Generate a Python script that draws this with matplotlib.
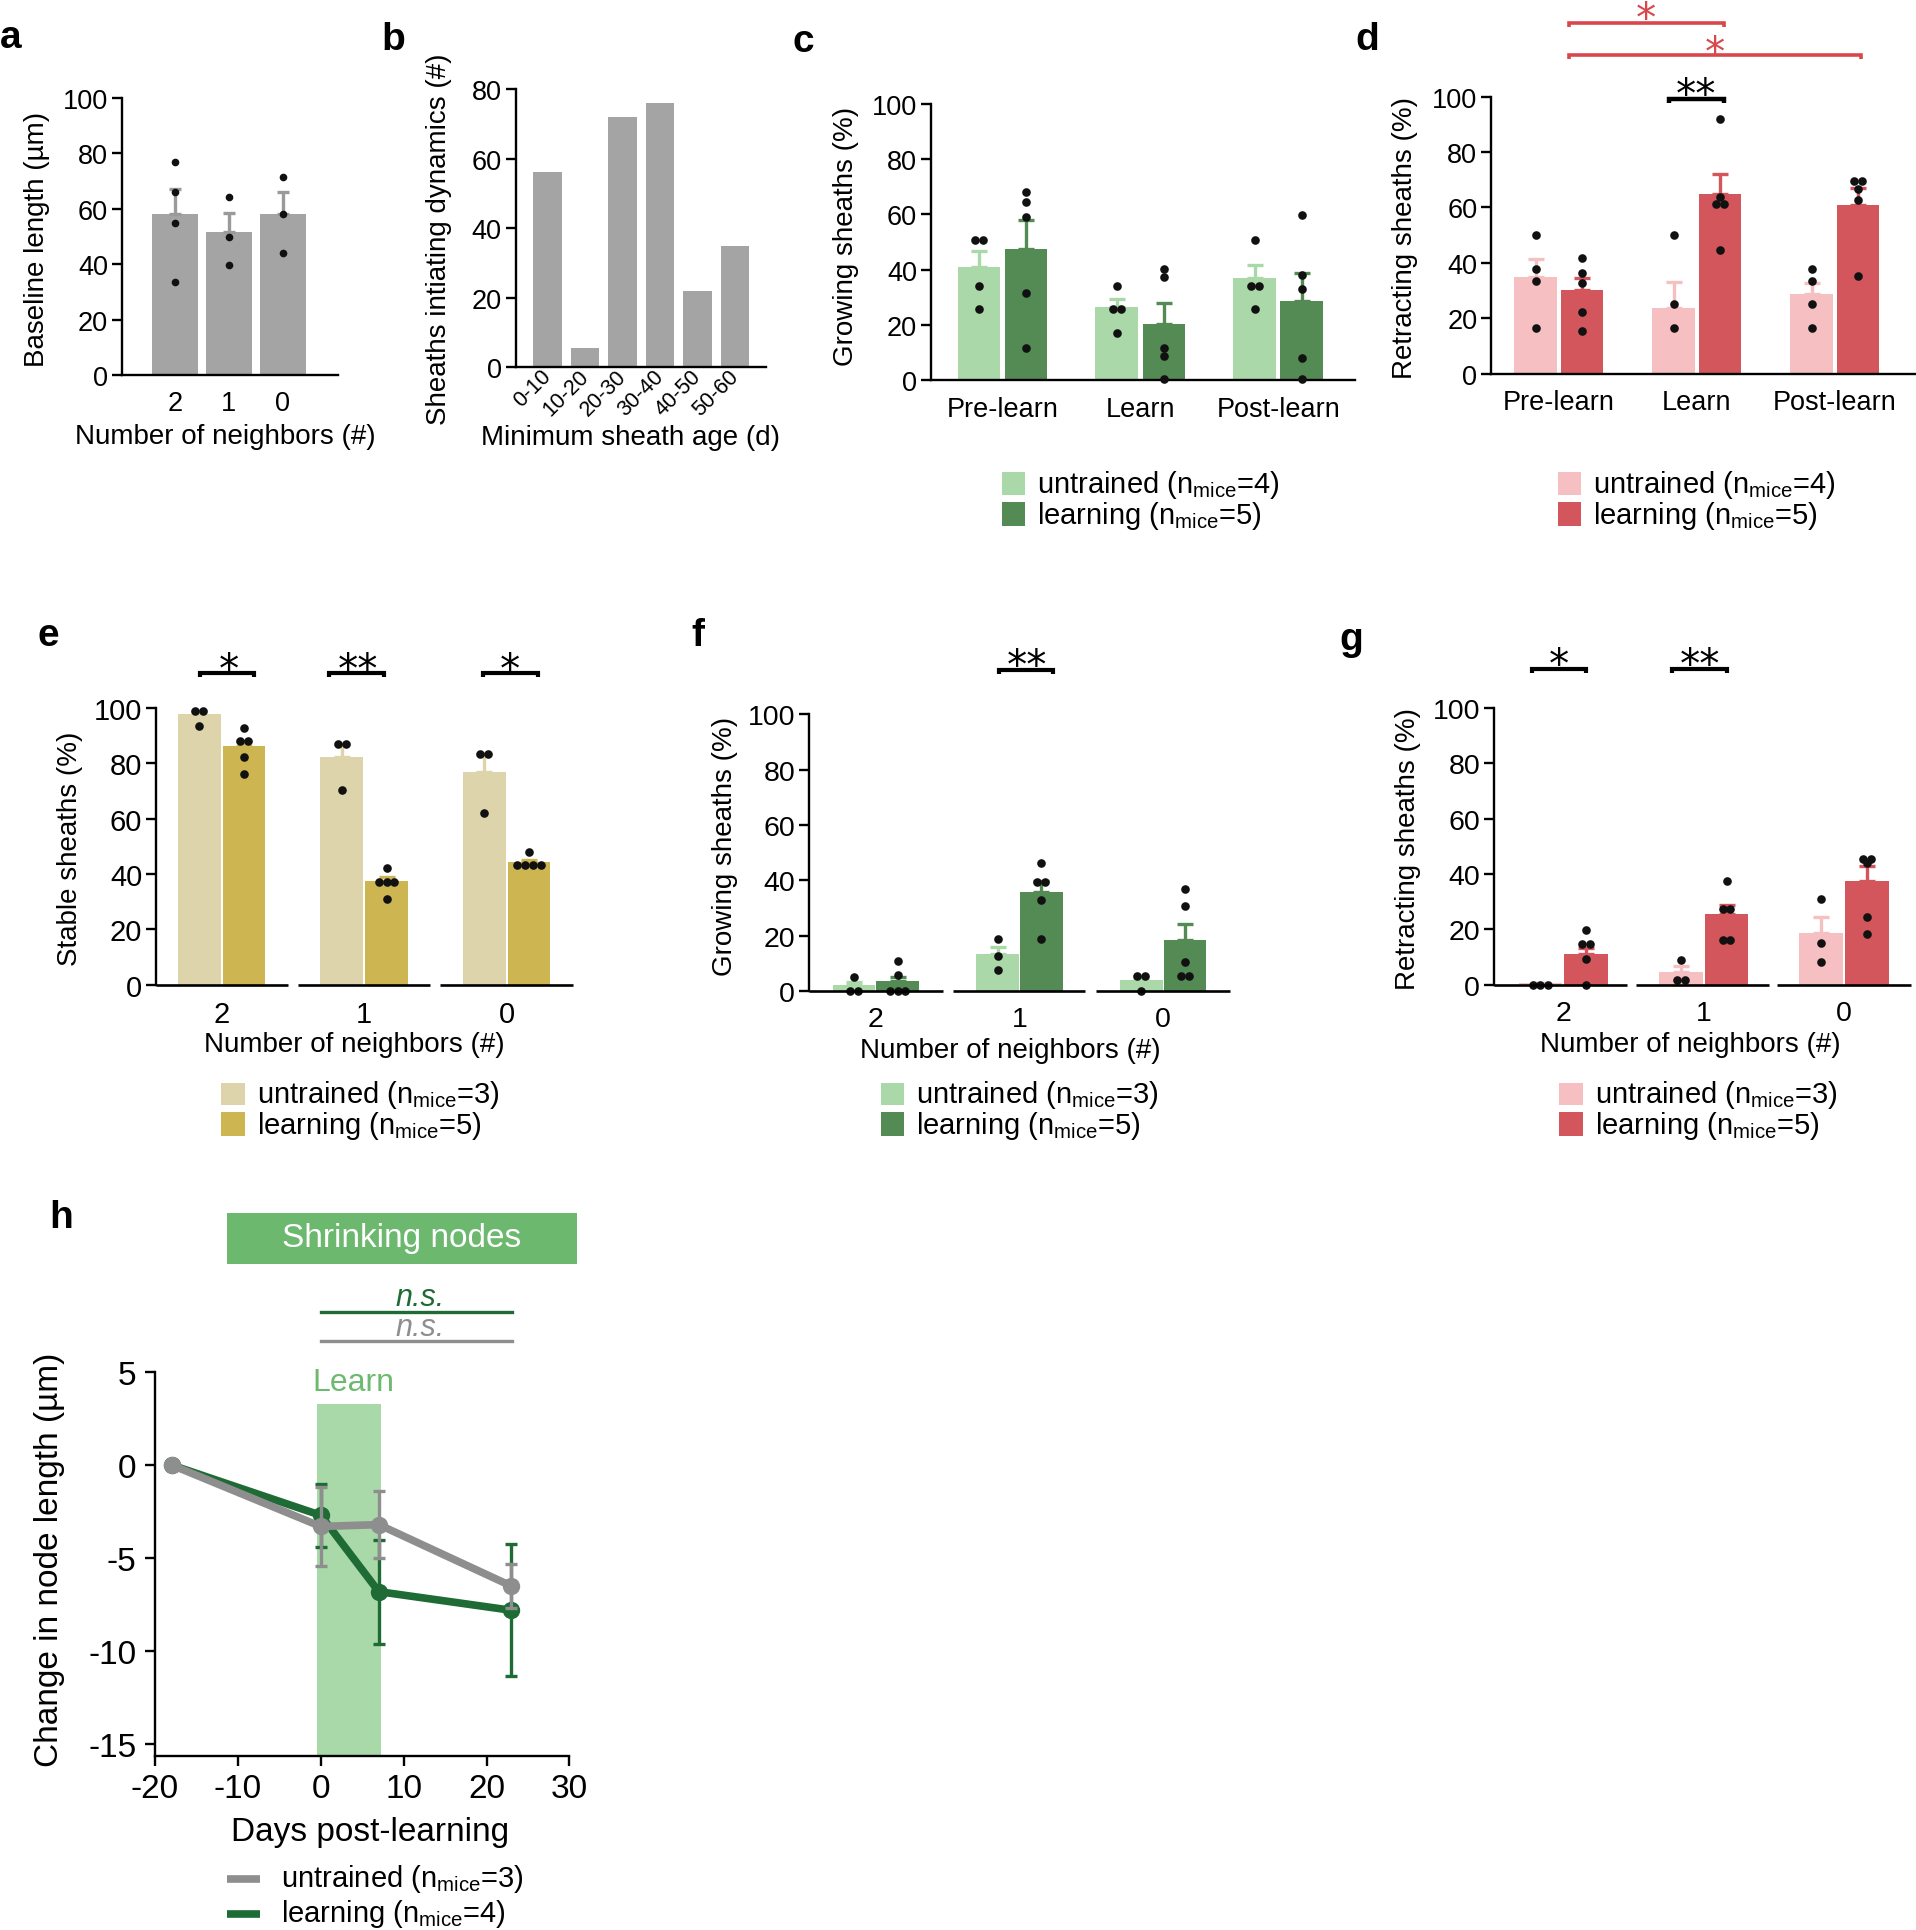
import matplotlib
matplotlib.use('Agg')
import matplotlib.pyplot as plt
from matplotlib.patches import Rectangle
from matplotlib.lines import Line2D
from collections import Counter
import numpy as np

plt.rcParams['font.family'] = ['Liberation Sans', 'DejaVu Sans']
plt.rcParams['mathtext.default'] = 'regular'
plt.rcParams['mathtext.fontset'] = 'custom'
plt.rcParams['mathtext.rm'] = 'Liberation Sans'
plt.rcParams['mathtext.it'] = 'Liberation Sans:italic'
plt.rcParams['axes.unicode_minus'] = False

# ---------------- DATA ----------------
# panel a
a_cats = ['2', '1', '0']
a_means = [58.1, 51.6, 58.1]
a_err = [9.0, 7.0, 8.0]
a_points = [[77.0, 66.0, 54.9, 33.5], [64.4, 49.8, 39.7], [71.4, 58.1, 44.0]]

# panel b
b_cats = ['0-10', '10-20', '20-30', '30-40', '40-50', '50-60']
b_counts = [56, 5.5, 72, 76, 22, 35]

# panel c (growing sheaths by phase)
phases = ['Pre-learn', 'Learn', 'Post-learn']
c_untr_mean = [41.0, 26.4, 36.8]
c_untr_err = [5.7, 3.0, 4.7]
c_learn_mean = [47.6, 20.5, 28.6]
c_learn_err = [10.2, 7.4, 10.1]
c_untr_pts = [[50.7, 50.7, 34.0, 25.7], [34.0, 25.7, 25.7, 17.2], [50.7, 34.0, 34.0, 25.7]]
c_learn_pts = [[68.1, 64.3, 59.1, 31.4, 11.7], [40.3, 37.4, 11.7, 8.9, 0.6], [59.6, 38.2, 33.0, 8.2, 0.6]]

# panel d (retracting sheaths by phase)
d_untr_mean = [35.1, 23.7, 28.8]
d_untr_err = [6.3, 9.6, 4.0]
d_learn_mean = [30.2, 65.0, 60.9]
d_learn_err = [4.5, 7.1, 6.0]
d_untr_pts = [[50.2, 37.7, 33.5, 16.7], [50.2, 25.1, 16.7], [37.7, 33.5, 25.1, 16.7]]
d_learn_pts = [[41.7, 36.4, 32.6, 22.3, 15.4], [91.8, 63.7, 61.1, 61.1, 44.5], [69.5, 69.5, 66.8, 62.7, 35.4]]

# panel e (stable sheaths by neighbors)
nb_cats = ['2', '1', '0']
e_untr_mean = [97.7, 82.2, 77.0]
e_untr_err = [1.0, 4.8, 6.5]
e_learn_mean = [86.1, 37.4, 44.4]
e_learn_err = [2.1, 1.6, 0.8]
e_untr_pts = [[98.7, 98.7, 93.5], [87.0, 87.0, 70.3], [83.5, 83.5, 61.9]]
e_learn_pts = [[92.9, 88.0, 88.0, 82.2, 76.1], [42.2, 37.0, 37.0, 37.0, 31.0], [48.0, 43.1, 43.1, 43.1, 43.1]]

# panel f (growing sheaths by neighbors)
f_untr_mean = [2.2, 13.2, 3.9]
f_untr_err = [1.0, 2.6, 1.3]
f_learn_mean = [3.5, 35.9, 18.3]
f_learn_err = [1.7, 3.8, 6.0]
f_untr_pts = [[4.9, 0.0, 0.0], [18.7, 12.7, 7.5], [5.4, 5.4, 0.0]]
f_learn_pts = [[11.0, 5.8, 0.0, 0.0, 0.0], [46.4, 39.4, 39.4, 32.9, 18.7], [37.0, 30.7, 10.6, 5.4, 5.4]]

# panel g (retracting sheaths by neighbors)
g_untr_mean = [0.7, 4.5, 18.7]
g_untr_err = [0.0, 2.2, 5.8]
g_learn_mean = [11.2, 25.4, 37.3]
g_learn_err = [2.0, 3.2, 5.5]
g_untr_pts = [[0.0, 0.0, 0.0], [8.9, 1.5, 1.5], [31.0, 15.1, 8.3]]
g_learn_pts = [[19.6, 14.5, 14.5, 9.3, 0.0], [37.4, 27.4, 27.4, 16.1, 16.1], [45.4, 45.4, 44.1, 24.5, 18.3]]

# panel h (node length)
h_days = [-18, 0, 7, 23]
h_untr = [0.0, -3.3, -3.2, -6.5]
h_untr_err = [0.0, 2.1, 1.8, 1.2]
h_learn = [0.0, -2.7, -6.8, -7.8]
h_learn_err = [0.0, 1.7, 2.8, 3.55]
learn_window = (-0.4, 7.25)
learn_top = 3.3

# ---------------- STYLE ----------------
GREY_BAR = '#A4A4A4'
GREY_ERR = '#9A9A9A'
G_LIGHT, G_DARK = '#AAD8A9', '#548A53'
R_LIGHT, R_DARK = '#F6C0C2', '#D2565B'
Y_LIGHT, Y_DARK = '#DED4AB', '#CDB652'
H_GREY, H_GREEN = '#8E8E8E', '#1E6B35'
SIG_RED = '#D9474C'

W, H = 1916, 1931
fig = plt.figure(figsize=(W / 100, H / 100), dpi=100)


def add_ax(x0, yt, x1, yb):
    ax = fig.add_axes([x0 / W, 1 - yb / H, (x1 - x0) / W, (yb - yt) / H])
    ax.patch.set_alpha(0)
    return ax


def ftext(x, y, s, **kw):
    return fig.text(x / W, 1 - y / H, s, **kw)


def fline(xs, ys, **kw):
    fig.add_artist(Line2D([x / W for x in xs], [1 - y / H for y in ys],
                          transform=fig.transFigure, **kw))


def frect(x0, yt, x1, yb, **kw):
    fig.add_artist(Rectangle((x0 / W, 1 - yb / H), (x1 - x0) / W, (yb - yt) / H,
                             transform=fig.transFigure, **kw))


def style(ax, fs, xpad=11):
    for s in ['top', 'right']:
        ax.spines[s].set_visible(False)
    for s in ['left', 'bottom']:
        ax.spines[s].set_linewidth(1.7)
    ax.tick_params(axis='y', length=7, width=1.7, labelsize=fs, pad=3)
    ax.tick_params(axis='x', length=0, labelsize=fs, pad=xpad)


def spread(vals, dx):
    c = Counter(vals)
    seen = {}
    out = []
    for v in vals:
        k = c[v]
        j = seen.get(v, 0)
        seen[v] = j + 1
        out.append((j - (k - 1) / 2) * dx)
    return np.array(out)


def grouped(ax, mu, eu, pu, ml, el, pl, cu, cl, w, gap, dx=0.055, ms=6.2):
    x = np.arange(len(mu))
    off = (w + gap) / 2
    ax.bar(x - off, mu, w, color=cu, zorder=1)
    ax.bar(x + off, ml, w, color=cl, zorder=1)
    ax.errorbar(x - off, mu, yerr=[np.zeros(len(eu)), eu], fmt='none', ecolor=cu,
                elinewidth=2.4, capsize=5.5, capthick=2.4, zorder=2)
    ax.errorbar(x + off, ml, yerr=[np.zeros(len(el)), el], fmt='none', ecolor=cl,
                elinewidth=2.4, capsize=5.5, capthick=2.4, zorder=2)
    for i in range(len(x)):
        ax.plot(x[i] - off + spread(pu[i], dx), pu[i], 'o', color='#111111', ms=ms,
                mew=0, zorder=3, clip_on=False)
        ax.plot(x[i] + off + spread(pl[i], dx), pl[i], 'o', color='#111111', ms=ms,
                mew=0, zorder=3, clip_on=False)
    ax.set_ylim(0, 100)
    ax.set_yticks(range(0, 101, 20))
    ax.set_xticks(x)
    return x


def legend_boxes(x0, x1, rows, labels, colors, fs=21):
    for (yt, yb), lab, col in zip(rows, labels, colors):
        frect(x0, yt, x1, yb, color=col, lw=0)
        ftext(x1 + 12, yb - 3, lab, fontsize=fs, va='baseline', ha='left')


def bracket(x0, x1, y, color='black', lw=3.0, tick=4):
    fline([x0, x0, x1, x1], [y + tick, y, y, y + tick], color=color, lw=lw,
          solid_joinstyle='miter', solid_capstyle='butt')


def stars(x, yc, s, color='black', fs=29):
    em = fs * 100 / 72
    ftext(x, yc + 0.575 * em, s, fontsize=fs, color=color, ha='center', va='baseline',
          family='DejaVu Sans')


def panel_letter(x, y, s):
    ftext(x, y, s, fontsize=28, fontweight='bold', va='baseline', ha='left')


FS = 20

# ---------------- PANEL a ----------------
axa = add_ax(122, 99, 338, 376)
xa = np.arange(len(a_cats))
axa.bar(xa, a_means, 0.85, color=GREY_BAR, zorder=1)
axa.errorbar(xa, a_means, yerr=[np.zeros(3), a_err], fmt='none', ecolor=GREY_ERR,
             elinewidth=2.4, capsize=4.5, capthick=2.4, zorder=2)
for i in range(len(xa)):
    axa.plot(np.full(len(a_points[i]), xa[i]), a_points[i], 'o', color='#111111',
             ms=5.5, mew=0, zorder=3)
axa.set_xlim(-0.98, 3.02)
axa.set_ylim(0, 100)
axa.set_yticks(range(0, 101, 20))
axa.set_xticks(xa)
axa.set_xticklabels(a_cats)
style(axa, 19.5)
ftext(37, 239, 'Baseline length (µm)', fontsize=FS, rotation=90, ha='center', va='center')
ftext(225, 437, 'Number of neighbors (#)', fontsize=FS, ha='center', va='center')
panel_letter(0, 48, 'a')

# ---------------- PANEL b ----------------
axb = add_ax(515.7, 90, 766, 368.3)
xb = np.arange(len(b_cats))
axb.bar(xb, b_counts, 0.76, color=GREY_BAR)
axb.set_xlim(-0.853, 5.82)
axb.set_ylim(0, 80)
axb.set_yticks(range(0, 81, 20))
axb.set_xticks(xb)
style(axb, 19.5, xpad=4)
axb.set_xticklabels(b_cats, rotation=45, ha='right', va='center', rotation_mode='anchor',
                    fontsize=15.5)
ftext(439, 239, 'Sheaths intiating dynamics (#)', fontsize=FS, rotation=90,
      ha='center', va='center')
ftext(630.5, 438, 'Minimum sheath age (d)', fontsize=FS, ha='center', va='center')
panel_letter(381, 50, 'b')

# ---------------- PANEL c ----------------
axc = add_ax(931, 104.6, 1355, 381.3)
grouped(axc, c_untr_mean, c_untr_err, c_untr_pts, c_learn_mean, c_learn_err, c_learn_pts,
        G_LIGHT, G_DARK, 0.309, 0.032, dx=0.06)
axc.set_xlim(-0.518, 2.557)
axc.set_xticklabels(phases)
style(axc, 19.5)
ftext(845.7, 236.6, 'Growing sheaths (%)', fontsize=FS, rotation=90, ha='center', va='center')
legend_boxes(1002, 1025.3, [(473, 496), (503.4, 526.6)],
             [r'untrained (n$_{mice}$=4)', r'learning (n$_{mice}$=5)'], [G_LIGHT, G_DARK])
panel_letter(793, 51.8, 'c')

# ---------------- PANEL d ----------------
axd = add_ax(1491.2, 97.5, 1916, 374.9)
grouped(axd, d_untr_mean, d_untr_err, d_untr_pts, d_learn_mean, d_learn_err, d_learn_pts,
        R_LIGHT, R_DARK, 0.308, 0.03, dx=0.06)
axd.set_xlim(-0.49, 2.588)
axd.set_xticklabels(phases)
style(axd, 19.5)
ftext(1405, 238, 'Retracting sheaths (%)', fontsize=FS, rotation=90, ha='center', va='center')
legend_boxes(1557.5, 1580.6, [(473, 496), (503.4, 526.6)],
             [r'untrained (n$_{mice}$=4)', r'learning (n$_{mice}$=5)'], [R_LIGHT, R_DARK])
bracket(1668.5, 1723.5, 100, 'black', lw=3.2)
stars(1696, 84.8, '**')
bracket(1569.2, 1723.5, 24.3, SIG_RED, lw=2.6)
stars(1645.5, 9, '*', SIG_RED)
bracket(1569.2, 1860.7, 56.4, SIG_RED, lw=2.6)
stars(1714.6, 42.8, '*', SIG_RED)
panel_letter(1355, 50, 'd')


# ---------------- PANELS e, f, g ----------------
def broken_axis(ax, segs):
    ax.spines['bottom'].set_visible(False)
    for a, b in segs:
        ax.plot([a, b], [0, 0], color='black', lw=1.9, clip_on=False, zorder=4,
                solid_capstyle='butt')


axe = add_ax(156.2, 708.9, 573.3, 985.6)
grouped(axe, e_untr_mean, e_untr_err, e_untr_pts, e_learn_mean, e_learn_err, e_learn_pts,
        Y_LIGHT, Y_DARK, 0.30, 0.014)
axe.set_xlim(-0.459, 2.467)
axe.set_xticklabels(nb_cats)
style(axe, 21)
broken_axis(axe, [(-0.459, 0.465), (0.534, 1.463), (1.532, 2.467)])
ftext(70, 849, 'Stable sheaths (%)', fontsize=FS, rotation=90, ha='center', va='center')
ftext(353.9, 1045.5, 'Number of neighbors (#)', fontsize=FS, ha='center', va='center')
legend_boxes(221.4, 245.1, [(1084, 1106.2), (1113.4, 1136.6)],
             [r'untrained (n$_{mice}$=3)', r'learning (n$_{mice}$=5)'], [Y_LIGHT, Y_DARK])
for (x0, x1), xs, s in zip([(199.7, 254.2), (329, 383.5), (483.2, 537.7)],
                           [229.3, 357.8, 510], ['*', '**', '*']):
    bracket(x0, x1, 674.3)
    stars(xs, 660, s)
panel_letter(37.6, 645.7, 'e')

axf = add_ax(809, 715.3, 1229.6, 992)
grouped(axf, f_untr_mean, f_untr_err, f_untr_pts, f_learn_mean, f_learn_err, f_learn_pts,
        G_LIGHT, G_DARK, 0.296, 0.008)
axf.set_xlim(-0.464, 2.461)
axf.set_xticklabels(nb_cats)
style(axf, 20.5)
broken_axis(axf, [(-0.464, 0.467), (0.535, 1.458), (1.534, 2.461)])
ftext(724.5, 846.5, 'Growing sheaths (%)', fontsize=FS, rotation=90, ha='center', va='center')
ftext(1010.8, 1050.9, 'Number of neighbors (#)', fontsize=FS, ha='center', va='center')
legend_boxes(881, 904.3, [(1084, 1106.2), (1113.4, 1136.6)],
             [r'untrained (n$_{mice}$=3)', r'learning (n$_{mice}$=5)'], [G_LIGHT, G_DARK])
bracket(999.2, 1052.6, 670.7)
stars(1027.1, 655.5, '**')
panel_letter(691, 645.7, 'f')

axg = add_ax(1494, 708.9, 1910.9, 985.6)
grouped(axg, g_untr_mean, g_untr_err, g_untr_pts, g_learn_mean, g_learn_err, g_learn_pts,
        R_LIGHT, R_DARK, 0.31, 0.016)
axg.set_xlim(-0.493, 2.476)
axg.set_xticklabels(nb_cats)
style(axg, 20.5)
broken_axis(axg, [(-0.493, 0.455), (0.52, 1.462), (1.524, 2.476)])
ftext(1408.4, 849, 'Retracting sheaths (%)', fontsize=FS, rotation=90, ha='center', va='center')
ftext(1690.5, 1045.5, 'Number of neighbors (#)', fontsize=FS, ha='center', va='center')
legend_boxes(1559.4, 1583.3, [(1084, 1106.2), (1113.4, 1136.6)],
             [r'untrained (n$_{mice}$=3)', r'learning (n$_{mice}$=5)'], [R_LIGHT, R_DARK])
bracket(1531.7, 1586, 669.6)
stars(1558.6, 654.6, '*')
bracket(1671.5, 1726.6, 669.6)
stars(1700, 654.6, '**')
panel_letter(1339, 650, 'g')

# ---------------- PANEL h ----------------
axh = add_ax(155, 1372.9, 569.4, 1757.1)
YMIN_H = -15.63
axh.add_patch(Rectangle((learn_window[0], YMIN_H), learn_window[1] - learn_window[0],
                        learn_top - YMIN_H, color='#A9D8A9', lw=0, zorder=0))
axh.errorbar(h_days, h_learn, yerr=h_learn_err, color=H_GREEN, lw=5.5, marker='o', ms=11.5,
             elinewidth=2.4, capsize=4.5, capthick=2.4, zorder=3)
axh.errorbar(h_days, h_untr, yerr=h_untr_err, color=H_GREY, lw=5.5, marker='o', ms=11.5,
             elinewidth=2.4, capsize=4.5, capthick=2.4, zorder=4)
axh.set_xlim(-20, 30)
axh.set_ylim(YMIN_H, 5)
axh.set_xticks(range(-20, 31, 10))
axh.set_yticks(range(-15, 6, 5))
for s in ['top', 'right']:
    axh.spines[s].set_visible(False)
for s in ['left', 'bottom']:
    axh.spines[s].set_linewidth(1.7)
axh.tick_params(axis='both', length=7.5, width=1.7, labelsize=24)
axh.tick_params(axis='y', pad=6)
axh.tick_params(axis='x', pad=5)
ftext(49.4, 1559.6, 'Change in node length (µm)', fontsize=24, rotation=90,
      ha='center', va='center')
ftext(369.7, 1832.7, 'Days post-learning', fontsize=24, ha='center', va='center')
frect(226.6, 1213.6, 576.5, 1264.7, color='#6CB86E', lw=0)
ftext(401.5, 1239, 'Shrinking nodes', fontsize=24, color='white', ha='center', va='center')
fline([321.1, 512], [1312.9, 1312.9], color=H_GREEN, lw=2.4)
ftext(420.3, 1305.8, 'n.s.', fontsize=22, style='italic', color=H_GREEN, ha='center',
      va='baseline')
fline([321.1, 512], [1342.2, 1342.2], color=H_GREY, lw=2.4)
ftext(420.3, 1336.5, 'n.s.', fontsize=22, style='italic', color=H_GREY, ha='center',
      va='baseline')
ftext(353.1, 1391, 'Learn', fontsize=23, color='#6DB96E', ha='center', va='baseline')
fline([227.4, 260.2], [1880, 1880], color=H_GREY, lw=5.5, solid_capstyle='butt')
ftext(280.7, 1887, r'untrained (n$_{mice}$=3)', fontsize=21, va='baseline')
fline([227.4, 260.2], [1914.5, 1914.5], color=H_GREEN, lw=5.5, solid_capstyle='butt')
ftext(280.7, 1921.6, r'learning (n$_{mice}$=4)', fontsize=21, va='baseline')
panel_letter(49.4, 1227.8, 'h')

fig.savefig('out.png', dpi=100)
